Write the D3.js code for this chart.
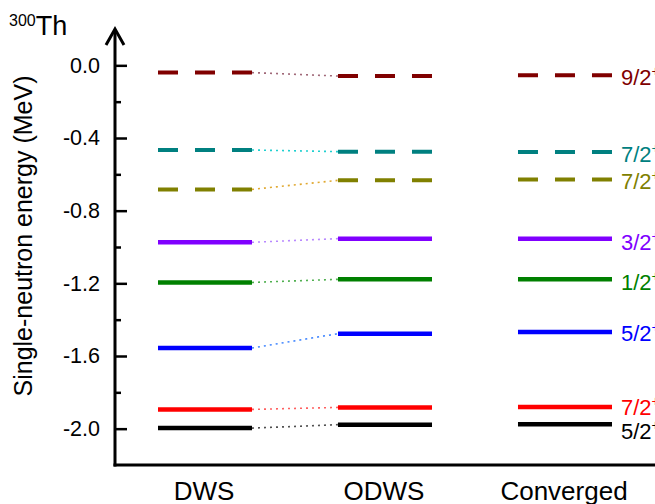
<!DOCTYPE html>
<html>
<head>
<meta charset="utf-8">
<script src="https://cdn.jsdelivr.net/npm/d3@7/dist/d3.min.js"></script>
<style>
  html, body { margin: 0; padding: 0; background: #fff; }
  svg { display: block; font-family: "Liberation Sans", Arial, sans-serif; }
</style>
</head>
<body>
<svg id="chart" width="655" height="504"></svg>
<script>
// ---- data ----
const methods = ["DWS", "ODWS", "Converged"];
const levelLabels = ["9/2", "7/2", "7/2", "3/2", "1/2", "5/2", "7/2", "5/2"];
const levelParity = ["+", "+", "+", "+", "+", "+", "+", "+"];
const levelColors = ["#800000", "#008080", "#808000", "#8000ff", "#008000", "#0000ff", "#ff0000", "#000000"];
const connectorColors = ["#a06878", "#20d0d0", "#e0a830", "#b888ff", "#50b050", "#4488ff", "#ff6060", "#505050"];
const levelDashed = [true, true, true, false, false, false, false, false];
const dwsValues = [-0.040, -0.466, -0.683, -0.974, -1.195, -1.556, -1.894, -1.997];
const odwsValues = [-0.059, -0.475, -0.633, -0.954, -1.178, -1.477, -1.883, -1.978];
const convergedValues = [-0.055, -0.477, -0.628, -0.954, -1.178, -1.468, -1.881, -1.976];
const yTicks = [0.0, -0.4, -0.8, -1.2, -1.6, -2.0];
const yMinorTicks = [-0.2, -0.6, -1.0, -1.4, -1.8];

const series = [dwsValues, odwsValues, convergedValues];

// ---- layout ----
const svg = d3.select("#chart");
const axisX = 115, axisBottom = 465, axisTop = 29;

const y = d3.scaleLinear().domain([-2.2, 0.2]).range([axisBottom, axisTop]);
const xb = d3.scaleBand().domain(methods).range([158, 612]).paddingInner(0.4777).paddingOuter(0);

// connectors (dotted) DWS -> ODWS
const g = svg.append("g");
levelLabels.forEach((lab, i) => {
  const k = 0;
  const m1 = methods[k], m2 = methods[k + 1];
  g.append("line")
    .attr("x1", xb(m1) + xb.bandwidth())
    .attr("x2", xb(m2))
    .attr("y1", y(series[k][i]))
    .attr("y2", y(series[k + 1][i]))
    .attr("stroke", connectorColors[i])
    .attr("stroke-width", 1.6)
    .attr("stroke-dasharray", "2,4");
});

// levels
levelLabels.forEach((lab, i) => {
  methods.forEach((m, k) => {
    const ln = g.append("line")
      .attr("x1", xb(m))
      .attr("x2", xb(m) + xb.bandwidth())
      .attr("y1", y(series[k][i]))
      .attr("y2", y(series[k][i]))
      .attr("stroke", levelColors[i])
      .attr("stroke-width", levelDashed[i] ? 4 : 4.5);
    if (levelDashed[i]) ln.attr("stroke-dasharray", "20,17");
  });
});

// level labels on right (clipped at the right edge, as in the original)
const labelOffsets = [2, 2.3, 2, 3.7, 3, 1.3, 0.3, 7];
levelLabels.forEach((lab, i) => {
  const t = svg.append("text")
    .attr("x", 621)
    .attr("y", y(convergedValues[i]) + labelOffsets[i] + 8)
    .attr("fill", levelColors[i])
    .attr("font-size", 22)
    .text(lab);
  t.append("tspan").attr("dy", -9).attr("font-size", 14).text(levelParity[i]);
});

// y axis
const yAxis = d3.axisRight(y).tickValues(yTicks).tickSize(12).tickFormat(d3.format(".1f"));
const ya = svg.append("g").attr("transform", `translate(${axisX},0)`).call(yAxis);
ya.select(".domain").remove();
ya.selectAll(".tick line").attr("stroke", "#000").attr("stroke-width", 2.5);
ya.selectAll(".tick text")
  .attr("x", -15).attr("text-anchor", "end")
  .attr("font-size", 21.5).attr("fill", "#000")
  .attr("font-family", "Liberation Sans, Arial, sans-serif")
  .text(d => d3.format(".1f")(d).replace("−", "-"));
const yMinor = d3.axisRight(y).tickValues(yMinorTicks).tickSize(6).tickFormat("");
const ym = svg.append("g").attr("transform", `translate(${axisX},0)`).call(yMinor);
ym.select(".domain").remove();
ym.selectAll(".tick line").attr("stroke", "#000").attr("stroke-width", 2.5);

// axis lines
svg.append("line").attr("x1", axisX).attr("x2", axisX).attr("y1", axisBottom + 1.5).attr("y2", axisTop + 2)
  .attr("stroke", "#000").attr("stroke-width", 3);
svg.append("path")
  .attr("d", `M${axisX - 9},${axisTop + 16} L${axisX},${axisTop} L${axisX + 9},${axisTop + 16}`)
  .attr("fill", "none").attr("stroke", "#000").attr("stroke-width", 3);
svg.append("line").attr("x1", axisX - 1.5).attr("x2", 655).attr("y1", axisBottom).attr("y2", axisBottom)
  .attr("stroke", "#000").attr("stroke-width", 3);

// x category labels
methods.forEach(m => {
  svg.append("text")
    .attr("x", xb(m) + xb.bandwidth() / 2 - 1)
    .attr("y", 500)
    .attr("text-anchor", "middle")
    .attr("font-size", 26)
    .attr("fill", "#000")
    .text(m);
});

// y title
svg.append("text")
  .attr("transform", "translate(32,236) rotate(-90)")
  .attr("text-anchor", "middle")
  .attr("font-size", 25)
  .attr("fill", "#000")
  .text("Single-neutron energy (MeV)");

// nucleus label
const nt = svg.append("text").attr("x", 9).attr("y", 35).attr("font-size", 27).attr("fill", "#000");
nt.append("tspan").attr("font-size", 16).attr("dy", -9).text("300");
nt.append("tspan").attr("dy", 9).text("Th");
</script>
</body>
</html>
